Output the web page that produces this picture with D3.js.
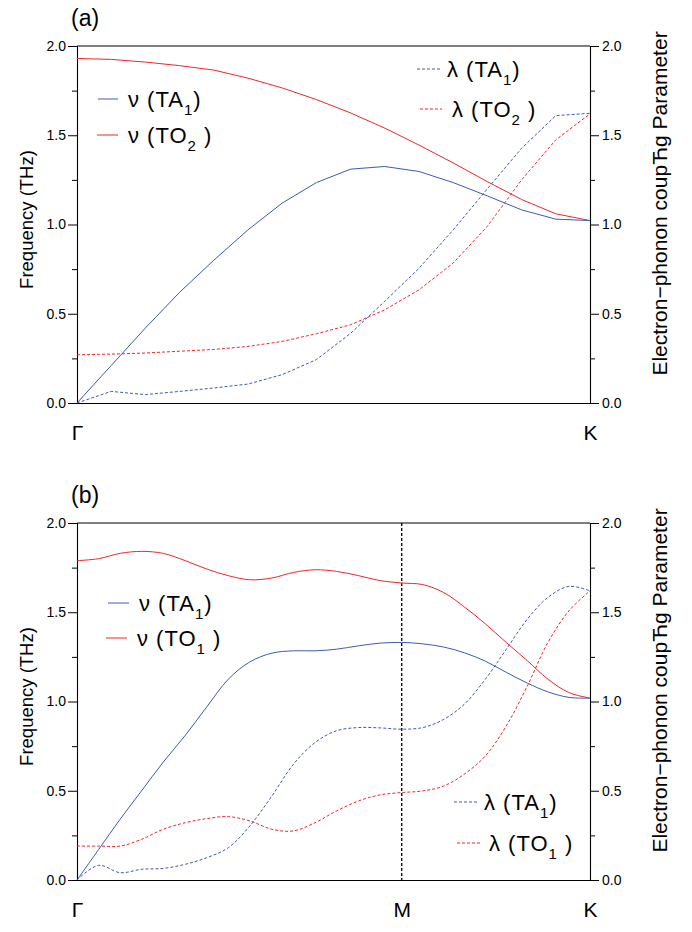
<!DOCTYPE html>
<html>
<head>
<meta charset="utf-8">
<script src="https://cdn.jsdelivr.net/npm/d3@7/dist/d3.min.js"></script>
<style>
  html, body { margin: 0; padding: 0; background: #fff; }
  svg { display: block; font-family: "Liberation Sans", Arial, sans-serif; }
</style>
</head>
<body>
<svg id="chart" width="692" height="932"></svg>
<script>
// ---------- DATA ----------
// Panel (a): Γ -> K
const qTop = [0, 0.0667, 0.1333, 0.2, 0.2667, 0.3333, 0.4, 0.4667, 0.5333, 0.6, 0.6667, 0.7333, 0.8, 0.8667, 0.9333, 1.0];
const nuTA1_a  = [0, 0.21, 0.42, 0.62, 0.80, 0.97, 1.12, 1.235, 1.31, 1.325, 1.297, 1.235, 1.16, 1.082, 1.03, 1.022];
const nuTO2_a  = [1.93, 1.925, 1.91, 1.89, 1.865, 1.82, 1.765, 1.70, 1.625, 1.54, 1.445, 1.345, 1.24, 1.14, 1.06, 1.022];
const lamTA1_a = [0, 0.065, 0.047, 0.065, 0.084, 0.106, 0.159, 0.243, 0.39, 0.57, 0.755, 0.97, 1.20, 1.427, 1.61, 1.623];
const lamTO2_a = [0.27, 0.274, 0.28, 0.29, 0.30, 0.317, 0.345, 0.388, 0.438, 0.522, 0.634, 0.784, 0.99, 1.25, 1.474, 1.62];

// Panel (b): Γ -> M -> K
const qBottom = [0, 0.042, 0.084, 0.126, 0.168, 0.211, 0.253, 0.295, 0.337, 0.38, 0.422, 0.464, 0.506, 0.549, 0.591, 0.633,
                 0.674, 0.715, 0.755, 0.796, 0.837, 0.878, 0.918, 0.959, 1.0];
const nuTA1_b  = [0, 0.17, 0.34, 0.50, 0.66, 0.81, 0.97, 1.125, 1.222, 1.271, 1.284, 1.284, 1.293, 1.312, 1.327, 1.331,
                  1.323, 1.305, 1.273, 1.226, 1.163, 1.103, 1.054, 1.023, 1.019];
const nuTO1_b  = [1.789, 1.80, 1.83, 1.841, 1.83, 1.789, 1.742, 1.705, 1.682, 1.692, 1.723, 1.738, 1.729, 1.705, 1.677, 1.664,
                  1.655, 1.61, 1.53, 1.435, 1.33, 1.228, 1.125, 1.05, 1.019];
const lamTA1_b = [0, 0.082, 0.041, 0.06, 0.065, 0.088, 0.125, 0.181, 0.303, 0.471, 0.649, 0.77, 0.836, 0.854, 0.852, 0.845,
                  0.854, 0.90, 0.985, 1.125, 1.293, 1.462, 1.583, 1.645, 1.62];
const lamTO1_b = [0.19, 0.19, 0.19, 0.228, 0.284, 0.321, 0.344, 0.355, 0.331, 0.284, 0.275, 0.321, 0.387, 0.443, 0.477, 0.49,
                  0.499, 0.527, 0.593, 0.695, 0.864, 1.088, 1.331, 1.508, 1.62];

// Axis ticks / labels
const yMajorTicks = [0, 0.5, 1.0, 1.5, 2.0];
const yMinorTicks = [0.25, 0.75, 1.25, 1.75];
const kTicksTop = [0, 1];
const kLabelsTop = ["Γ", "K"];
const kTicksBottom = [0, 0.633, 1];
const kLabelsBottom = ["Γ", "M", "K"];
const panelLabels = ["(a)", "(b)"];
const leftTitle = "Frequency (THz)";
const rightTitle = "Electron\u2212phonon coupЋg Parameter";

// ---------- STYLE ----------
const BLUE = "#3d5bb3";
const RED = "#f0262b";
const DASH = "3,2";
const FONT = "Liberation Sans, Arial, sans-serif";

const svg = d3.select("#chart");
const X0 = 77, X1 = 590;

function drawPanel(opt) {
  const g = svg.append("g");
  const x = d3.scaleLinear().domain([0, 1]).range([X0, X1]);
  const y = d3.scaleLinear().domain([0, 2]).range([opt.bottom, opt.top]);
  const yr = d3.scaleLinear().domain([0, 2]).range([opt.bottom, opt.top]);

  // frame top
  g.append("line").attr("x1", X0).attr("x2", X1).attr("y1", opt.top).attr("y2", opt.top)
    .attr("stroke", "#000").attr("stroke-width", 1.1);

  // M line
  if (opt.mLine !== undefined) {
    g.append("line").attr("x1", x(opt.mLine)).attr("x2", x(opt.mLine))
      .attr("y1", y(2)).attr("y2", y(0))
      .attr("stroke", "#000").attr("stroke-width", 1.3).attr("stroke-dasharray", "3,2");
  }

  // left axis
  g.append("g").attr("transform", `translate(${X0},0)`)
    .call(d3.axisLeft(y).tickValues(yMajorTicks).tickSize(9).tickPadding(2).tickFormat(d3.format(".1f")));
  g.append("g").attr("transform", `translate(${X0},0)`)
    .call(d3.axisLeft(y).tickValues(yMinorTicks).tickSize(5).tickFormat(""))
    .select(".domain").remove();
  // right axis
  g.append("g").attr("transform", `translate(${X1},0)`)
    .call(d3.axisRight(yr).tickValues(yMajorTicks).tickSize(9).tickPadding(3).tickFormat(d3.format(".1f")));
  g.append("g").attr("transform", `translate(${X1},0)`)
    .call(d3.axisRight(yr).tickValues(yMinorTicks).tickSize(5).tickFormat(""))
    .select(".domain").remove();

  g.selectAll(".tick text").attr("font-size", 14).attr("font-family", FONT).attr("fill", "#000");

  // bottom axis
  g.append("g").attr("transform", `translate(0,${opt.bottom})`)
    .call(d3.axisBottom(x).tickValues(opt.kTicks).tickSize(0).tickPadding(22)
      .tickFormat((d, i) => opt.kLabels[i]))
    .call(s => s.selectAll("text").attr("font-size", 21).attr("font-family", FONT).attr("fill", "#000"));

  g.selectAll(".domain").attr("stroke", "#000").attr("stroke-width", 1.1);
  g.selectAll(".tick line").attr("stroke", "#000");

  // lines
  opt.series.forEach(s => {
    const line = d3.line().x((d, i) => x(opt.q[i])).y(d => y(d)).curve(opt.curve);
    g.append("path").datum(s.values)
      .attr("fill", "none").attr("stroke", s.color).attr("stroke-width", 1)
      .attr("stroke-dasharray", s.dash ? DASH : null)
      .attr("d", line);
  });

  // legends
  opt.legends.forEach(L => {
    g.append("line").attr("x1", L.lx0).attr("x2", L.lx1).attr("y1", L.ly).attr("y2", L.ly)
      .attr("stroke", L.color).attr("stroke-width", 1).attr("stroke-dasharray", L.dash ? DASH : null);
    const t = g.append("text").attr("x", L.tx).attr("y", L.ly + 8).attr("font-size", 22)
      .attr("letter-spacing", 1).attr("fill", "#000");
    t.append("tspan").text(L.pre);
    t.append("tspan").attr("font-size", 15).attr("dy", 8).text(L.sub);
    t.append("tspan").attr("dy", -8).text(L.post);
  });

  // panel label
  svg.append("text").attr("x", 71).attr("y", opt.top - 20).attr("font-size", 23).text(opt.label);

  // titles
  const cy = (opt.top + opt.bottom) / 2;
  svg.append("text").attr("transform", `translate(33,${cy - 5}) rotate(-90)`)
    .attr("text-anchor", "middle").attr("font-size", 18.5).text(leftTitle);
  svg.append("text").attr("transform", `translate(667,${cy - 21}) rotate(-90)`)
    .attr("text-anchor", "middle").attr("font-size", 21).text(rightTitle);
}

drawPanel({
  top: 46, bottom: 403, q: qTop, curve: d3.curveLinear,
  kTicks: kTicksTop, kLabels: kLabelsTop, label: panelLabels[0],
  series: [
    { values: lamTO2_a, color: RED, dash: true },
    { values: lamTA1_a, color: BLUE, dash: true },
    { values: nuTO2_a, color: RED, dash: false },
    { values: nuTA1_a, color: BLUE, dash: false }
  ],
  legends: [
    { lx0: 98, lx1: 118, ly: 99, tx: 128, color: BLUE, dash: false, pre: "ν (TA", sub: "1", post: ")" },
    { lx0: 97, lx1: 118, ly: 135, tx: 128, color: RED, dash: false, pre: "ν (TO", sub: "2", post: " )" },
    { lx0: 417, lx1: 440, ly: 69, tx: 447, color: BLUE, dash: true, pre: "λ  (TA", sub: "1", post: ")" },
    { lx0: 420, lx1: 442, ly: 109, tx: 452, color: RED, dash: true, pre: "λ  (TO", sub: "2", post: " )" }
  ]
});

drawPanel({
  top: 523, bottom: 880, q: qBottom, curve: d3.curveCatmullRom.alpha(0.5), mLine: kTicksBottom[1],
  kTicks: kTicksBottom, kLabels: kLabelsBottom, label: panelLabels[1],
  series: [
    { values: lamTO1_b, color: RED, dash: true },
    { values: lamTA1_b, color: BLUE, dash: true },
    { values: nuTO1_b, color: RED, dash: false },
    { values: nuTA1_b, color: BLUE, dash: false }
  ],
  legends: [
    { lx0: 108, lx1: 129, ly: 603, tx: 139, color: BLUE, dash: false, pre: "ν (TA", sub: "1", post: ")" },
    { lx0: 106, lx1: 127, ly: 638, tx: 137, color: RED, dash: false, pre: "ν (TO", sub: "1", post: " )" },
    { lx0: 454, lx1: 477, ly: 802, tx: 484, color: BLUE, dash: true, pre: "λ  (TA", sub: "1", post: ")" },
    { lx0: 457, lx1: 480, ly: 843, tx: 489, color: RED, dash: true, pre: "λ  (TO", sub: "1", post: " )" }
  ]
});
</script>
</body>
</html>
